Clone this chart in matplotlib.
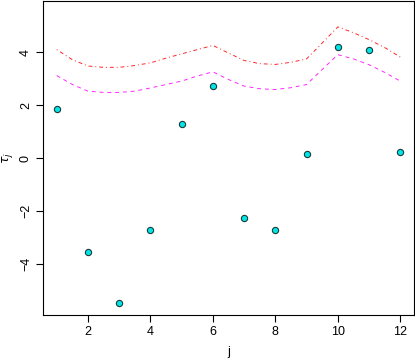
import matplotlib
matplotlib.use('Agg')
import matplotlib.pyplot as plt

# observed values
j = [1, 2, 3, 4, 5, 6, 7, 8, 9, 10, 11, 12]
tau = [1.84, -3.56, -5.49, -2.72, 1.28, 2.73, -2.28, -2.72, 0.14, 4.19, 4.08, 0.21]

# bound curves, read at half steps
grid = [1, 1.5, 2, 2.5, 3, 3.5, 4, 4.5, 5, 5.5, 6, 6.5, 7, 7.5, 8, 8.5,
        9, 9.5, 10, 10.5, 11, 11.5, 12]
upper = [4.10, 3.72, 3.48, 3.43, 3.43, 3.50, 3.60, 3.78, 3.94, 4.10, 4.26,
         3.97, 3.69, 3.57, 3.54, 3.62, 3.75, 4.35, 4.96, 4.74, 4.48, 4.18, 3.82]
lower = [3.12, 2.78, 2.53, 2.48, 2.48, 2.53, 2.65, 2.78, 2.91, 3.10, 3.26,
         2.97, 2.72, 2.62, 2.59, 2.66, 2.78, 3.35, 3.91, 3.75, 3.53, 3.24, 2.91]

plt.rcParams['font.family'] = ['Liberation Sans', 'DejaVu Sans']

fig = plt.figure(figsize=(4.15, 3.62), dpi=100)
ax = fig.add_axes([43 / 415, 47 / 362, 371 / 415, 314 / 362])

ax.plot(grid, upper, color='red', lw=0.7, alpha=0.85, dashes=(1, 3, 4, 3))
ax.plot(grid, lower, color='magenta', lw=0.7, alpha=0.85, dashes=(4, 4))
ax.plot(j, tau, 'o', ms=4.5, mfc='#00e5e5', mec='#1a3a3a', mew=0.8)

ax.set_xlim(0.56, 12.44)
ax.set_ylim(-5.94, 5.94)
ax.set_xticks([2, 4, 6, 8, 10, 12])
ax.set_yticks([-4, -2, 0, 2, 4])
ax.tick_params(direction='out', length=5, width=0.8, labelsize=9, pad=3)
for lbl in ax.get_yticklabels():
    lbl.set_rotation(90)
    lbl.set_va('center')
for s in ax.spines.values():
    s.set_linewidth(0.8)

ax.set_xlabel('j', fontsize=9, labelpad=6)
ax.set_ylabel(r'$\tau_j$', fontsize=9)
ax.yaxis.set_label_coords(-0.075, 0.5)

fig.savefig('out.png', dpi=100)
